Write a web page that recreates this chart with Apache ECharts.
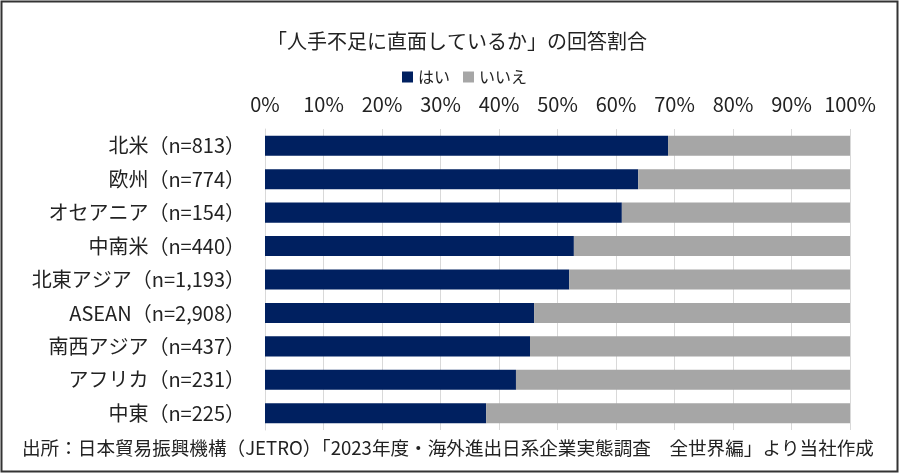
<!DOCTYPE html>
<html><head><meta charset="utf-8">
<script src="https://cdn.jsdelivr.net/npm/echarts@6/dist/echarts.min.js"></script>
<style>html,body{margin:0;padding:0;background:#fff}#c{width:900px;height:474px}</style>
</head><body><div id="c"></div>
<script>
const categories = ['北米（n=813）','欧州（n=774）','オセアニア（n=154）','中南米（n=440）','北東アジア（n=1,193）','ASEAN（n=2,908）','南西アジア（n=437）','アフリカ（n=231）','中東（n=225）'];
const yesValues = [68.9, 63.8, 61.0, 52.8, 52.0, 46.0, 45.3, 42.9, 37.8];
const noValues = yesValues.map(v => +(100 - v).toFixed(1));
const seriesNames = ['はい','いいえ'];
const titleText = '「人手不足に直面しているか」の回答割合';
const sourceText = '出所：日本貿易振興機構（JETRO）「2023年度・海外進出日系企業実態調査　全世界編」より当社作成';
const FONT = '"Noto Sans CJK JP", "Noto Sans", sans-serif';

const chart = echarts.init(document.getElementById('c'), null, {renderer:'canvas'});
chart.setOption({
  animation:false,
  textStyle:{fontFamily:FONT},
  title:{text:titleText,left:262,top:26,textStyle:{fontFamily:FONT,fontSize:20,fontWeight:'normal',color:'#222'}},
  legend:{data:seriesNames,top:64,left:397,itemWidth:11,itemHeight:11,itemGap:13,icon:'rect',
    textStyle:{fontFamily:FONT,fontSize:16,color:'#222'}},
  grid:{left:265,right:50,top:129,bottom:44,containLabel:false},
  xAxis:{type:'value',position:'top',min:0,max:100,interval:10,
    axisLabel:{formatter:'{value}%',fontSize:20,color:'#222',margin:15,fontFamily:FONT},
    axisLine:{show:false},axisTick:{show:false},
    splitLine:{show:true,lineStyle:{color:'#d9d9d9',width:1}}},
  yAxis:{type:'category',data:categories,inverse:true,
    axisLabel:{fontSize:20,color:'#222',margin:20,fontFamily:FONT},
    axisLine:{show:true,lineStyle:{color:'#d9d9d9'}},axisTick:{show:false}},
  series:[
    {name:seriesNames[0],type:'bar',stack:'s',data:yesValues,barWidth:'60%',itemStyle:{color:'#002060'}},
    {name:seriesNames[1],type:'bar',stack:'s',data:noValues,barWidth:'60%',itemStyle:{color:'#a6a6a6'}}
  ],
  graphic:[
    {type:'rect',shape:{x:1.5,y:1.5,width:896,height:470},style:{fill:'none',stroke:'#333',lineWidth:2},silent:true,z:-1},
    {type:'text',left:22,top:439,style:{text:sourceText,font:'18.6px '+FONT,fill:'#222'}}
  ]
});
</script></body></html>
